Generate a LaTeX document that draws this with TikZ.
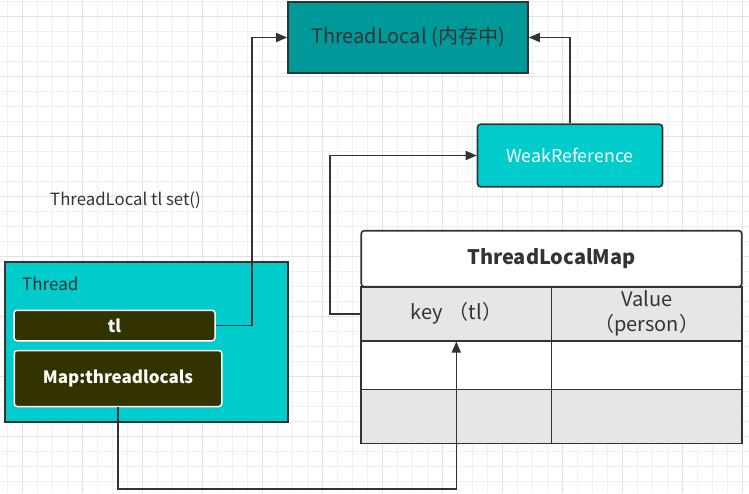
\documentclass[tikz,border=0pt]{standalone}
\usepackage{fontspec}
\setmainfont{Noto Sans CJK SC}
\usetikzlibrary{arrows.meta}
\definecolor{inkgray}{HTML}{333333}
\definecolor{tealfill}{HTML}{009999}
\definecolor{cyanfill}{HTML}{00CCCC}
\definecolor{olivefill}{HTML}{333300}
\definecolor{cellgray}{HTML}{E6E6E6}
\definecolor{gridminor}{HTML}{F0F0F0}
\definecolor{gridmajor}{HTML}{E2E2E2}
\newcommand{\px}[1]{\fontsize{#1}{1.25\dimexpr#1pt\relax}\selectfont}

\begin{document}
\begin{tikzpicture}
  [x=1pt,y=-1pt,
   every node/.style={rectangle,inner sep=0pt,text=inkgray},
   box/.style={draw=inkgray,line width=1.6pt},
   slot/.style={draw=white,line width=1.5pt,rounded corners=3pt,fill=olivefill,text=white,font=\px{17}\bfseries},
   cell/.style={box,minimum width=190.5pt,font=\px{20}},
   link/.style={draw=inkgray,line width=1.6pt,-{Triangle[length=11pt,width=9pt]}}]
  \useasboundingbox (0,0) rectangle (749,493);
  % background grid
  \foreach \gx in {7.3,22.3,...,750}
    \draw[gridminor,line width=0.8pt] (\gx,0) -- (\gx,493);
  \foreach \gy in {1.7,16.7,...,494}
    \draw[gridminor,line width=0.8pt] (0,\gy) -- (749,\gy);
  \foreach \gx in {22.3,82.3,...,750}
    \draw[gridmajor,line width=0.8pt] (\gx,0) -- (\gx,493);
  \foreach \gy in {16.7,76.7,...,494}
    \draw[gridmajor,line width=0.8pt] (0,\gy) -- (749,\gy);

  \node[box,fill=tealfill,minimum width=240pt,minimum height=71pt,font=\px{20}] (tlocal) at (408,37.5) {ThreadLocal (内存中)};
  \node[box,fill=cyanfill,rounded corners=3pt,minimum width=185pt,minimum height=62.5pt,text=white,font=\px{17.8}] (weakref) at (570,155.5) {WeakReference};
  \node[font=\px{16.8},anchor=west] (setcall) at (50,200) {ThreadLocal tl set()};

  \node[box,fill=cyanfill,minimum width=282.5pt,minimum height=159.5pt] (thread) at (146.5,342) {};
  \node[font=\px{17},anchor=west] (threadlbl) at (22,284) {Thread};
  \node[slot,minimum width=201pt,minimum height=30.5pt] (tl) at (114.5,325.5) {tl};
  \node[slot,minimum width=207.5pt,minimum height=56pt] (maptl) at (118,378.5) {Map:threadlocals};

  \node[box,fill=white,rounded corners=3pt,minimum width=380.5pt,minimum height=56pt,font=\px{20}\bfseries] (tlmap) at (551.5,258.7) {ThreadLocalMap};
  \node[cell,fill=cellgray,minimum height=54pt] (key) at (456.3,313.7) {key\hspace{0.3em}（tl）};
  \node[cell,fill=cellgray,minimum height=54pt,align=center] (value) at (646.7,313.7) {Value\\（person）};
  \node[cell,fill=white,minimum height=48.6pt] (key2) at (456.3,365) {};
  \node[cell,fill=white,minimum height=48.6pt] (value2) at (646.7,365) {};
  \node[cell,fill=cellgray,minimum height=54pt] (key3) at (456.3,416.3) {};
  \node[cell,fill=cellgray,minimum height=54pt] (value3) at (646.7,416.3) {};

  \draw[link] (tl.east) -- ++(36,0) |- (tlocal.west);
  \draw[link] (weakref.north) |- (tlocal.east);
  \draw[link] (key.west) -- ++(-30,0) |- (weakref.west);
  \draw[link] (maptl.south) -- ++(0,82) -| (key.south);

\end{tikzpicture}
\end{document}
